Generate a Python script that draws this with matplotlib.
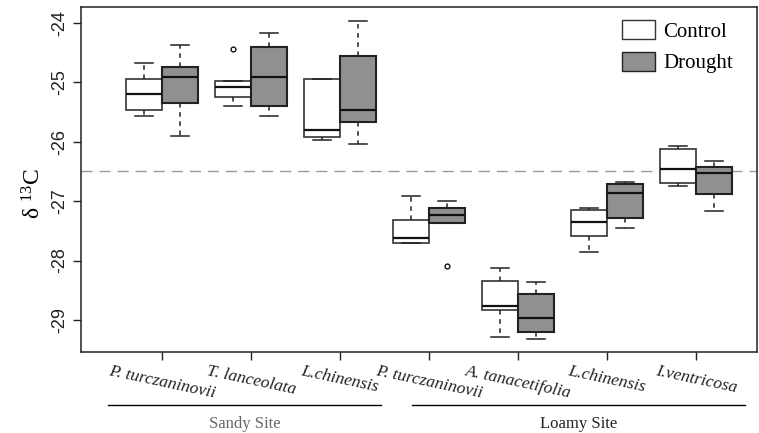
import matplotlib
matplotlib.use('Agg')
import matplotlib.pyplot as plt
from matplotlib.patches import Patch
from matplotlib.lines import Line2D
import matplotlib.transforms as mtransforms

species = ["P. turczaninovii", "T. lanceolata", "L.chinensis",
           "P. turczaninovii", "A. tanacetifolia", "L.chinensis", "I.ventricosa"]

# five-number summaries: whislo, q1, med, q3, whishi
control_whislo = [-25.57, -25.40, -25.97, -27.71, -29.29, -27.86, -26.75]
control_q1     = [-25.47, -25.25, -25.92, -27.71, -28.83, -27.59, -26.70]
control_med    = [-25.19, -25.08, -25.80, -27.62, -28.77, -27.35, -26.46]
control_q3     = [-24.94, -24.98, -24.95, -27.31, -28.34, -27.15, -26.12]
control_whishi = [-24.68, -24.98, -24.94, -26.91, -28.13, -27.11, -26.07]
control_fliers = [[], [-24.44], [], [], [], [], []]

drought_whislo = [-25.90, -25.57, -26.03, -27.37, -29.32, -27.46, -27.17]
drought_q1     = [-25.35, -25.39, -25.66, -27.37, -29.20, -27.29, -26.88]
drought_med    = [-24.91, -24.91, -25.47, -27.23, -28.97, -26.87, -26.53]
drought_q3     = [-24.74, -24.40, -24.55, -27.12, -28.56, -26.71, -26.42]
drought_whishi = [-24.37, -24.16, -23.96, -26.99, -28.36, -26.67, -26.32]
drought_fliers = [[], [], [], [-28.10], [], [], []]

ref_line = -26.5

serif = "Liberation Serif"
sans = "Liberation Sans"
plt.rcParams['mathtext.fontset'] = 'custom'
plt.rcParams['mathtext.rm'] = serif
plt.rcParams['mathtext.it'] = serif + ':italic'

fig = plt.figure(figsize=(7.59, 4.33), dpi=100)
ax = fig.add_axes([81/759, 81/433, 676/759, 345/433])

def stats(lo, q1, med, q3, hi, fl):
    return [dict(whislo=a, q1=b, med=c, q3=d, whishi=e, fliers=f)
            for a, b, c, d, e, f in zip(lo, q1, med, q3, hi, fl)]

pos = list(range(1, len(species) + 1))
common = dict(widths=0.4, patch_artist=True, manage_ticks=False,
              whiskerprops=dict(linestyle=(0, (3, 3)), color="#222222", lw=1.1),
              capprops=dict(color="#222222", lw=1.1),
              medianprops=dict(color="#111111", lw=1.6),
              flierprops=dict(marker="o", markersize=3.5, markerfacecolor="none",
                              markeredgecolor="black", markeredgewidth=0.9))
ax.bxp(stats(control_whislo, control_q1, control_med, control_q3, control_whishi, control_fliers),
       positions=[p - 0.2 for p in pos],
       boxprops=dict(facecolor="white", edgecolor="#333333", lw=1.2), **common)
ax.bxp(stats(drought_whislo, drought_q1, drought_med, drought_q3, drought_whishi, drought_fliers),
       positions=[p + 0.2 for p in pos],
       boxprops=dict(facecolor="#909090", edgecolor="#222222", lw=1.5), **common)

ax.axhline(ref_line, color="#999999", lw=1, linestyle=(0, (8, 5)), zorder=0)

ax.set_xlim(0.09, 7.685)
ax.set_ylim(-29.54, -23.73)
ax.set_xticks(pos)
ax.set_xticklabels(species, rotation=-12, ha="center", va="top",
                   fontfamily=serif, fontstyle="italic", fontsize=12.5)
ax.set_yticks([-24, -25, -26, -27, -28, -29])
ax.set_yticklabels(["-24", "-25", "-26", "-27", "-28", "-29"], rotation=90,
                   va="center", fontfamily=sans, fontsize=13)
ax.tick_params(axis="both", direction="out", length=6, width=1, colors="#222222")
ax.tick_params(axis="x", pad=2)
for s in ax.spines.values():
    s.set_linewidth(1.1)
    s.set_color("#222222")

ax.set_ylabel("δ $^{13}$C", fontfamily=serif, fontsize=17)
ax.yaxis.set_label_coords(-0.053, 0.46)

trans = mtransforms.blended_transform_factory(ax.transData, ax.transAxes)
for x0, x1, lab, col in [(0.39, 3.46, "Sandy Site", "#666666"),
                         (3.81, 7.55, "Loamy Site", "#222222")]:
    ax.add_line(Line2D([x0, x1], [-0.154, -0.154], transform=trans,
                       color="black", lw=1, clip_on=False))
    ax.text((x0 + x1) / 2, -0.21, lab, transform=trans, ha="center", va="center",
            fontfamily=serif, fontsize=12, color=col)

handles = [Patch(facecolor="white", edgecolor="#333333", label="Control"),
           Patch(facecolor="#909090", edgecolor="#222222", label="Drought")]
leg = ax.legend(handles=handles, loc="upper right", bbox_to_anchor=(0.965, 0.962),
                frameon=False, borderaxespad=0, borderpad=0,
                prop=dict(family=serif, size=15), handlelength=1.6, handleheight=1.0,
                handletextpad=0.4, labelspacing=0.5)

plt.savefig("out.png", dpi=100)
